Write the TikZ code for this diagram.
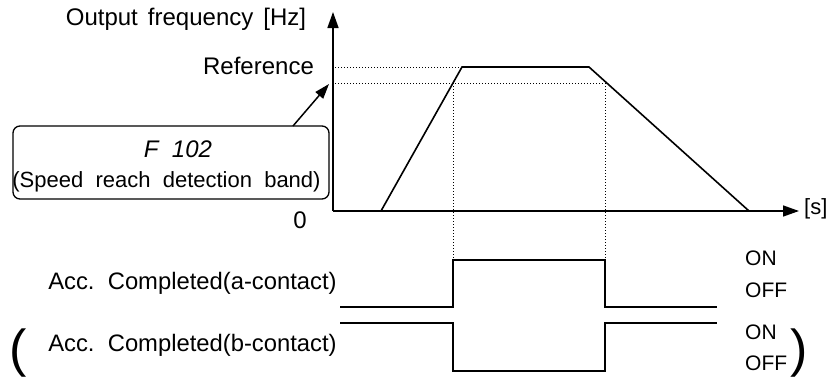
\documentclass[tikz,border=0pt]{standalone}
\usepackage{fontspec}
\setmainfont{Liberation Sans}
\usetikzlibrary{arrows.meta}
\tikzset{
  lbl/.style={font=\fontsize{24}{28}\selectfont, inner sep=0pt, anchor=base},
  sml/.style={font=\fontsize{21}{25}\selectfont, inner sep=0pt, anchor=base west},
  axis/.style={line width=1.5pt, -{Triangle[length=16pt,width=11pt]}},
  curve/.style={line width=1.6pt, line join=miter},
  guide/.style={line width=1pt, dotted},
  bandbox/.style={draw, line width=1.3pt, rounded corners=7pt, minimum width=316pt, minimum height=73pt, inner sep=0pt},
  pointer/.style={line width=1.5pt, -{Triangle[length=15pt,width=10pt]}},
  paren/.style={font=\fontsize{52}{58}\selectfont, inner sep=0pt}
}
\newcommand{\wsp}{\hspace{0.42em}}
\begin{document}
\begin{tikzpicture}[x=1pt,y=-1pt]
\useasboundingbox (0,0) rectangle (827,381);
% axes
\coordinate (O) at (333,211);
\coordinate (ytip) at (333,12);
\coordinate (xtip) at (799,211);
\draw[axis] (O) -- (ytip);
\draw[axis] (O) -- (xtip);
% frequency curve
\coordinate (s0) at (381,211);
\coordinate (s1) at (462,67);
\coordinate (s2) at (589,67);
\coordinate (s3) at (749,211);
\draw[curve] (s0) -- (s1) -- (s2) -- (s3);
% guides
\coordinate (r0) at (335,67);
\coordinate (b0) at (335,83);
\coordinate (b1) at (453,83);
\coordinate (b2) at (605,83);
\coordinate (v1) at (453,260);
\coordinate (v2) at (605,260);
\draw[guide] (r0) -- (s1);
\draw[guide] (b0) -- (b2);
\draw[guide] (b1) -- (v1);
\draw[guide] (b2) -- (v2);
% labels
\node[lbl] (yl) at (186,25) {Output\wsp frequency\wsp [Hz]};
\node[lbl] (ref) at (258.5,74) {Reference};
\node[lbl] (zero) at (300,228) {0};
\node[lbl, font=\fontsize{22}{26}\selectfont, anchor=base west] (sl) at (804,214) {[s]};
% band box
\node[bandbox] (box) at (171,162.5) {};
\node[lbl, font=\fontsize{24}{28}\selectfont\itshape] (code) at (178,157) {F\ \ 102};
\node[lbl, font=\fontsize{22}{26}\selectfont] (band) at (166.5,187) {(Speed\ \ reach\ \ detection\ \ band)};
\coordinate (pstart) at (293,126);
\coordinate (ptip) at (329,84);
\draw[pointer] (pstart) -- (ptip);
% a-contact
\coordinate (a0) at (340,307);
\coordinate (a1) at (453,307);
\coordinate (a2) at (453,260);
\coordinate (a3) at (605,260);
\coordinate (a4) at (605,307);
\coordinate (a5) at (717,307);
\draw[curve] (a0) -- (a1) -- (a2) -- (a3) -- (a4) -- (a5);
% b-contact
\coordinate (c0) at (340,323);
\coordinate (c1) at (453,323);
\coordinate (c2) at (453,371);
\coordinate (c3) at (605,371);
\coordinate (c4) at (605,323);
\coordinate (c5) at (717,323);
\draw[curve] (c0) -- (c1) -- (c2) -- (c3) -- (c4) -- (c5);
\node[lbl, font=\fontsize{23.8}{28}\selectfont] (alab) at (192.5,289) {Acc.\ \ Completed(a-contact)};
\node[lbl, font=\fontsize{23.8}{28}\selectfont] (blab) at (192.5,351) {Acc.\ \ Completed(b-contact)};
\node[sml] (aon) at (745,265) {ON};
\node[sml] (aoff) at (745,297) {OFF};
\node[sml] (bon) at (745,339) {ON};
\node[sml] (boff) at (745,370) {OFF};
\node[paren] (lp) at (18,353) {(};
\node[paren] (rp) at (799,353) {)};
\end{tikzpicture}
\end{document}
